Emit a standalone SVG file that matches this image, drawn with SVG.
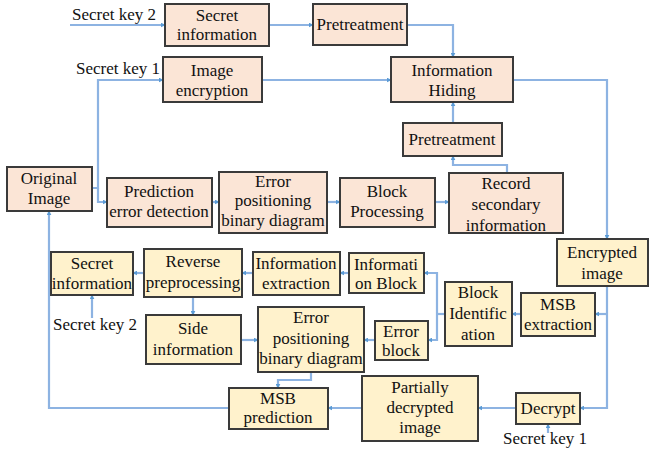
<svg xmlns="http://www.w3.org/2000/svg" width="650" height="456" viewBox="0 0 650 456">
<style>
.p{fill:#FBE5D6;stroke:#3a3a3a;stroke-width:2}
.y{fill:#FFF2CC;stroke:#3a3a3a;stroke-width:2}
.c{fill:none;stroke:#8DB3E2;stroke-width:2.2}
</style>
<defs>
<marker id="a" viewBox="0 0 8 8" refX="7" refY="4" markerWidth="5" markerHeight="5" orient="auto" markerUnits="userSpaceOnUse">
<path d="M0,0 L8,4 L0,8 z" fill="#5B9BD5"/>
</marker>
</defs>
<g id="connectors">
<path class="c" d="M70,25 H165" marker-end="url(#a)"/>
<path class="c" d="M269,25 H313" marker-end="url(#a)"/>
<path class="c" d="M407,25 H453 V57" marker-end="url(#a)"/>
<path class="c" d="M262,80 H391" marker-end="url(#a)"/>
<path class="c" d="M92,188 H98 V80 H163" marker-end="url(#a)"/>
<path class="c" d="M98,188 V202 H107" marker-end="url(#a)"/>
<path class="c" d="M453,123 V102" marker-end="url(#a)"/>
<path class="c" d="M507,173 V165 H453 V156" marker-end="url(#a)"/>
<path class="c" d="M212,202 H219" marker-end="url(#a)"/>
<path class="c" d="M327,202 H340" marker-end="url(#a)"/>
<path class="c" d="M435,202 H449" marker-end="url(#a)"/>
<path class="c" d="M513,80 H607 V239" marker-end="url(#a)"/>
<path class="c" d="M607,286 V408 H580" marker-end="url(#a)"/>
<path class="c" d="M607,314 H595" marker-end="url(#a)"/>
<path class="c" d="M521,314 H512" marker-end="url(#a)"/>
<path class="c" d="M445,314 H437"/>
<path class="c" d="M437,314 V273 H424" marker-end="url(#a)"/>
<path class="c" d="M437,314 V340 H428" marker-end="url(#a)"/>
<path class="c" d="M349,273 H340" marker-end="url(#a)"/>
<path class="c" d="M253,273 H242" marker-end="url(#a)"/>
<path class="c" d="M144,273 H133" marker-end="url(#a)"/>
<path class="c" d="M193,297 V315" marker-end="url(#a)"/>
<path class="c" d="M92,318 V295" marker-end="url(#a)"/>
<path class="c" d="M241,340 H258" marker-end="url(#a)"/>
<path class="c" d="M375,340 H364" marker-end="url(#a)"/>
<path class="c" d="M311,372 V380 H278 V388" marker-end="url(#a)"/>
<path class="c" d="M516,408 H478" marker-end="url(#a)"/>
<path class="c" d="M362,408 H328" marker-end="url(#a)"/>
<path class="c" d="M229,408 H49 V211" marker-end="url(#a)"/>
<path class="c" d="M548,433 V424" marker-end="url(#a)"/>
</g>
<g id="labels" font-family="Liberation Serif, serif" font-size="17" fill="#111">
<g id="key2-top"><text font-family="Liberation Serif" x="72" y="20">Secret key 2</text></g>
<g id="key1-top"><text font-family="Liberation Serif" x="76" y="74">Secret key 1</text></g>
<g id="key2-bottom"><text font-family="Liberation Serif" x="53" y="330">Secret key 2</text></g>
<g id="key1-bottom"><text font-family="Liberation Serif" x="503" y="444">Secret key 1</text></g>
</g>
<g id="nodes" font-family="Liberation Serif, serif" font-size="17" fill="#111" text-anchor="middle">
<g id="secret-info-top"><rect class="p" x="165" y="4" width="104" height="42"/><text font-family="Liberation Serif" x="217" y="21">Secret</text><text font-family="Liberation Serif" x="217" y="40">information</text></g>
<g id="pretreatment-top"><rect class="p" x="313" y="4" width="94" height="41"/><text font-family="Liberation Serif" x="360" y="30">Pretreatment</text></g>
<g id="image-encryption"><rect class="p" x="163" y="57" width="99" height="45"/><text font-family="Liberation Serif" x="212" y="76">Image</text><text font-family="Liberation Serif" x="212" y="96">encryption</text></g>
<g id="information-hiding"><rect class="p" x="391" y="57" width="122" height="45"/><text font-family="Liberation Serif" x="452" y="76">Information</text><text font-family="Liberation Serif" x="452" y="96">Hiding</text></g>
<g id="pretreatment-2"><rect class="p" x="403" y="123" width="99" height="33"/><text font-family="Liberation Serif" x="452" y="145">Pretreatment</text></g>
<g id="original-image"><rect class="p" x="7" y="167" width="85" height="44"/><text font-family="Liberation Serif" x="49" y="184">Original</text><text font-family="Liberation Serif" x="49" y="204">Image</text></g>
<g id="prediction-error"><rect class="p" x="107" y="178" width="105" height="49"/><text font-family="Liberation Serif" x="159" y="197">Prediction</text><text font-family="Liberation Serif" x="159" y="217">error detection</text></g>
<g id="error-pos-top"><rect class="p" x="219" y="172" width="108" height="61"/><text font-family="Liberation Serif" x="273" y="187">Error</text><text font-family="Liberation Serif" x="273" y="206">positioning</text><text font-family="Liberation Serif" x="273" y="226">binary diagram</text></g>
<g id="block-processing"><rect class="p" x="340" y="178" width="95" height="49"/><text font-family="Liberation Serif" x="387" y="197">Block</text><text font-family="Liberation Serif" x="387" y="217">Processing</text></g>
<g id="record-secondary"><rect class="p" x="449" y="173" width="114" height="60"/><text font-family="Liberation Serif" x="506" y="189">Record</text><text font-family="Liberation Serif" x="506" y="210">secondary</text><text font-family="Liberation Serif" x="506" y="231">information</text></g>
<g id="encrypted-image"><rect class="y" x="557" y="239" width="91" height="47"/><text font-family="Liberation Serif" x="602" y="258">Encrypted</text><text font-family="Liberation Serif" x="602" y="279">image</text></g>
<g id="secret-info-bottom"><rect class="y" x="51" y="252" width="82" height="43"/><text font-family="Liberation Serif" x="92" y="269">Secret</text><text font-family="Liberation Serif" x="92" y="289">information</text></g>
<g id="reverse-preprocessing"><rect class="y" x="144" y="249" width="98" height="48"/><text font-family="Liberation Serif" x="193" y="267">Reverse</text><text font-family="Liberation Serif" x="193" y="288">preprocessing</text></g>
<g id="information-extraction"><rect class="y" x="253" y="252" width="87" height="43"/><text font-family="Liberation Serif" x="296" y="269">Information</text><text font-family="Liberation Serif" x="296" y="289">extraction</text></g>
<g id="information-block"><rect class="y" x="349" y="253" width="75" height="40"/><text font-family="Liberation Serif" x="386" y="270">Informati</text><text font-family="Liberation Serif" x="386" y="289">on Block</text></g>
<g id="block-identification"><rect class="y" x="445" y="282" width="67" height="64"/><text font-family="Liberation Serif" x="478" y="298">Block</text><text font-family="Liberation Serif" x="478" y="319">Identific</text><text font-family="Liberation Serif" x="478" y="340">ation</text></g>
<g id="msb-extraction"><rect class="y" x="521" y="293" width="74" height="43"/><text font-family="Liberation Serif" x="558" y="310">MSB</text><text font-family="Liberation Serif" x="558" y="330">extraction</text></g>
<g id="side-information"><rect class="y" x="146" y="315" width="95" height="49"/><text font-family="Liberation Serif" x="193" y="334">Side</text><text font-family="Liberation Serif" x="193" y="355">information</text></g>
<g id="error-pos-bottom"><rect class="y" x="258" y="307" width="106" height="65"/><text font-family="Liberation Serif" x="311" y="323">Error</text><text font-family="Liberation Serif" x="311" y="344">positioning</text><text font-family="Liberation Serif" x="311" y="364">binary diagram</text></g>
<g id="error-block"><rect class="y" x="375" y="321" width="53" height="39"/><text font-family="Liberation Serif" x="401" y="337">Error</text><text font-family="Liberation Serif" x="401" y="356">block</text></g>
<g id="msb-prediction"><rect class="y" x="229" y="388" width="99" height="41"/><text font-family="Liberation Serif" x="278" y="404">MSB</text><text font-family="Liberation Serif" x="278" y="423">prediction</text></g>
<g id="partially-decrypted"><rect class="y" x="362" y="376" width="116" height="65"/><text font-family="Liberation Serif" x="420" y="393">Partially</text><text font-family="Liberation Serif" x="420" y="413">decrypted</text><text font-family="Liberation Serif" x="420" y="433">image</text></g>
<g id="decrypt"><rect class="y" x="516" y="393" width="64" height="31"/><text font-family="Liberation Serif" x="548" y="414">Decrypt</text></g>
</g>
</svg>
